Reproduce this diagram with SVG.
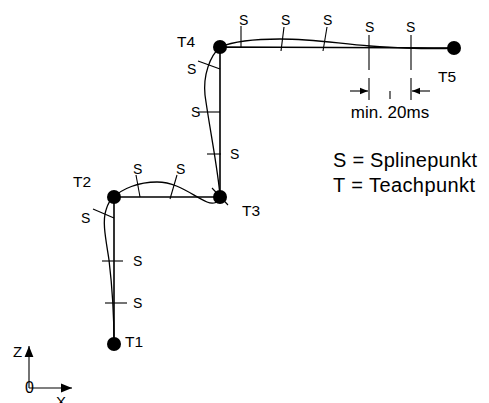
<svg xmlns="http://www.w3.org/2000/svg" width="489" height="403" viewBox="0 0 489 403">
<defs>
<style>
text{font-family:"Liberation Sans",Arial,sans-serif;fill:#000}
.t{font-size:15.5px}
.s{font-size:14px}
.lg{font-size:20px}
.path{fill:none;stroke:#000;stroke-width:1.6}
.spl{fill:none;stroke:#000;stroke-width:1.3}
.tk{stroke:#000;stroke-width:1.1;fill:none}
.dot{fill:#000}
</style>
<marker id="ah" viewBox="0 0 10 10" refX="10" refY="5" markerWidth="8" markerHeight="8" markerUnits="userSpaceOnUse" orient="auto">
<path d="M0,1 L10,5 L0,9 z" fill="#000"/>
</marker>
<marker id="axh" viewBox="0 0 10 10" refX="10" refY="5" markerWidth="11" markerHeight="11" markerUnits="userSpaceOnUse" orient="auto">
<path d="M0,1 L10,5 L0,9 z" fill="#000"/>
</marker>
</defs>
<rect width="489" height="403" fill="#fff"/>
<g id="connectors">
<polyline class="path" points="114,344 114,197 220,197 220,47 454,48"/>
<path class="spl" d="M114,344 C114,310 112,285 109,260 C106,240 102,222 106,210 C108,203 111,199 114,197 C122,189 138,182 157,182 C178,182 193,196 207,202 C214,205 219,202 220,197 C219,175 209,125 205,95 C203,75 210,56 220,47 C232,42 255,39 280,39 C315,39 340,44 370,46 C400,48 430,50 454,48"/>
</g>
<g id="ticks">
<line class="tk" x1="102" y1="261" x2="123" y2="261"/>
<line class="tk" x1="105" y1="303" x2="127" y2="303"/>
<line class="tk" x1="93" y1="209" x2="114" y2="218"/>
<line class="tk" x1="136" y1="175" x2="140" y2="197"/>
<line class="tk" x1="177" y1="175" x2="170" y2="199"/>
<line class="tk" x1="212" y1="188" x2="228" y2="205"/>
<line class="tk" x1="207" y1="154" x2="221" y2="154"/>
<line class="tk" x1="198" y1="112" x2="220" y2="112"/>
<line class="tk" x1="198" y1="61" x2="220" y2="69"/>
<line class="tk" x1="241" y1="26" x2="241" y2="48"/>
<line class="tk" x1="284" y1="27" x2="281" y2="51"/>
<line class="tk" x1="327" y1="27" x2="323" y2="51"/>
<line class="tk" x1="369" y1="35" x2="369" y2="70"/>
<line class="tk" x1="411" y1="35" x2="411" y2="70"/>
</g>
<g id="dimension">
<line class="tk" x1="369" y1="78" x2="369" y2="100"/>
<line class="tk" x1="411" y1="78" x2="411" y2="100"/>
<line class="tk" x1="390" y1="91" x2="390" y2="99"/>
<line class="tk" x1="350" y1="91" x2="368" y2="91" marker-end="url(#ah)"/>
<line class="tk" x1="430" y1="91" x2="412" y2="91" marker-end="url(#ah)"/>
<text x="390" y="118" text-anchor="middle" style="font-size:17px">min. 20ms</text>
</g>
<g id="T1"><circle class="dot" cx="114" cy="344" r="7"/><text class="t" x="125" y="347">T1</text></g>
<g id="T2"><circle class="dot" cx="114" cy="197" r="7"/><text class="t" x="73" y="187">T2</text></g>
<g id="T3"><circle class="dot" cx="220" cy="197" r="7"/><text class="t" x="242" y="216">T3</text></g>
<g id="T4"><circle class="dot" cx="220" cy="47" r="7"/><text class="t" x="177" y="47">T4</text></g>
<g id="T5"><circle class="dot" cx="454" cy="48" r="7"/><text class="t" x="438" y="82">T5</text></g>
<g id="labels">
<text class="s" x="133" y="266">S</text>
<text class="s" x="133" y="308">S</text>
<text class="s" x="81" y="223">S</text>
<text class="s" x="133" y="174">S</text>
<text class="s" x="176" y="174">S</text>
<text class="s" x="230" y="159">S</text>
<text class="s" x="191" y="117">S</text>
<text class="s" x="187" y="74">S</text>
<text class="s" x="239" y="25">S</text>
<text class="s" x="281" y="25">S</text>
<text class="s" x="323" y="25">S</text>
<text class="s" x="365" y="32">S</text>
<text class="s" x="406" y="32">S</text>
</g>
<g id="legend">
<text class="lg" x="333" y="167" textLength="144" lengthAdjust="spacing">S = Splinepunkt</text>
<text class="lg" x="333" y="192" textLength="142" lengthAdjust="spacing">T = Teachpunkt</text>
</g>
<g id="axes">
<line class="tk" x1="29" y1="388" x2="29" y2="346" marker-end="url(#axh)"/>
<line class="tk" x1="29" y1="388" x2="72" y2="388" marker-end="url(#axh)"/>
<text x="13" y="357" style="font-size:15px">Z</text>
<text x="25" y="393" style="font-size:16px">0</text>
<text x="56" y="407" style="font-size:15px">X</text>
</g>
</svg>
